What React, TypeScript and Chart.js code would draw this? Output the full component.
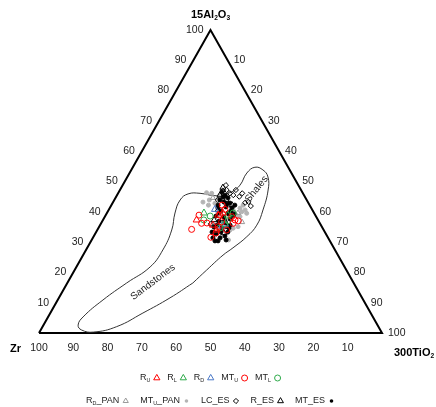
import React, { useEffect, useRef } from 'react';
import { Chart, registerables } from 'chart.js';

Chart.register(...registerables);

const FONT = "'Liberation Sans', Arial, Helvetica, sans-serif";

// ---- tick labels (percent along each edge) ----
const leftTicks = [10, 20, 30, 40, 50, 60, 70, 80, 90, 100]; // 15Al2O3 (left edge)
const rightTicks = [10, 20, 30, 40, 50, 60, 70, 80, 90, 100]; // 300TiO2 (right edge)
const bottomTicks = [100, 90, 80, 70, 60, 50, 40, 30, 20, 10]; // Zr (bottom edge)

const titleTop = '15Al{2}O{3}';
const titleLeft = 'Zr';
const titleRight = '300TiO{2}';

// ---- field outline (Sandstones + Shales), as [Al, Ti] in %, Zr = 100 - Al - Ti ----
const fieldAl = [16.5, 11.6, 6.6, 2.1, 0.3, 1.0, 2.6, 5.3, 10.9, 16.5, 21.8, 27.4, 34.0, 39.6, 43.9, 45.9, 46.1, 45.3, 46.6, 48.8, 52.8, 54.7, 53.8, 51.5, 47.2, 40.6, 35.6, 31.8, 28.1, 25.7, 20.8, 16.5];
const fieldTi = [36.6, 32.4, 27.0, 21.6, 15.7, 11.9, 10.1, 10.2, 13.2, 17.3, 21.5, 22.4, 21.7, 19.85, 19.2, 20.5, 23.9, 29.2, 32.9, 34.2, 34.2, 35.6, 38.4, 41.0, 43.2, 45.0, 45.7, 44.7, 42.5, 40.8, 38.5, 36.6];

const fieldNames = ['Sandstones', 'Shales'];
const fieldNameAl = [16.8, 47.5];
const fieldNameTi = [24.8, 39.7];

// ---- samples, [Al, Ti] in % ----
const rU = [[37.3, 27.3], [38.9, 32.8], [34.0, 34.8], [39.6, 33.8], [35.6, 32.9]];
const rL = [[39.6, 28.3], [38.9, 35.6]];
const rD = [[40.8, 30.9], [35.9, 36.3], [35.3, 35.7]];
const mtU = [[34.2, 27.4], [31.6, 34.3], [38.9, 27.2], [36.2, 29.3], [36.3, 30.8], [40.8, 33.8], [38.9, 33.3], [36.7, 34.9], [38.4, 37.0], [37.3, 38.5], [37.0, 39.6], [36.2, 38.5], [35.1, 34.7], [34.0, 37.7], [33.0, 35.1], [42.2, 32.3]];
const mtL = [[37.3, 29.4], [39.6, 36.8], [35.9, 36.2], [38.6, 30.6], [37.0, 36.6], [34.7, 35.4]];
const rDPan = [[44.6, 28.4], [39.6, 38.2], [36.6, 40.9], [43.9, 32.0]];
const mtUPan = [[46.3, 25.7], [46.1, 27.3], [45.5, 30.0], [43.9, 27.7], [42.8, 29.9], [41.2, 38.0], [40.0, 39.1], [40.6, 39.8], [39.5, 40.8], [38.9, 38.1], [38.4, 39.4], [34.6, 39.3], [35.1, 40.5], [34.0, 38.7], [42.2, 28.3], [40.6, 36.3], [44.5, 30.1], [42.2, 38.4], [42.2, 34.0], [43.2, 26.2], [30.7, 39.9]];
const lcEs = [[43.0, 38.6], [43.3, 39.4], [41.9, 40.8], [46.1, 36.2], [45.0, 35.9], [47.0, 30.1], [47.2, 31.1], [46.1, 32.6], [45.5, 33.9], [36.0, 32.1], [48.8, 30.1], [47.2, 33.8], [43.9, 30.2]];
const rEs = [[45.5, 30.0], [43.9, 32.6], [40.6, 31.9], [42.2, 35.2], [37.6, 34.6], [35.0, 37.6], [34.0, 34.6], [33.0, 37.4], [37.3, 32.4], [39.3, 36.0], [48.0, 29.6]];
const mtEs = [[46.5, 30.1], [45.5, 31.5], [44.6, 32.8], [43.9, 30.8], [43.2, 32.3], [42.9, 34.2], [42.2, 31.1], [41.6, 33.7], [41.3, 35.6], [40.3, 32.9], [39.6, 35.3], [39.3, 37.2], [38.6, 32.3], [38.3, 34.7], [37.6, 36.9], [36.9, 34.0], [36.3, 36.3], [35.0, 33.5], [34.7, 36.0], [33.3, 38.4], [32.7, 35.3], [31.4, 37.1], [32.0, 38.2], [31.4, 35.0], [30.4, 37.0], [35.6, 37.9], [42.2, 36.0], [33.3, 33.8], [44.9, 31.2], [42.6, 33.5], [39.6, 32.7], [40.3, 35.8], [37.0, 35.7], [35.6, 34.1], [34.7, 38.0], [33.3, 36.4], [30.7, 39.2], [30.4, 36.1], [38.6, 37.3], [41.3, 31.5]];

const legendLabels = ['R{U}', 'R{L}', 'R{D}', 'MT{U}', 'MT{L}', 'R{D}_PAN', 'MT{U}_PAN', 'LC_ES', 'R_ES', 'MT_ES'];

const RED = '#ff0000';
const GREEN = '#2eaa4a';
const BLUE = '#4a78c8';
const GREY = '#b4b4b4';
const GREY_T = '#9a9a9a';

type Seg = { t: string; sub: boolean };
function parseSegs(label: string): Seg[] {
  const segs: Seg[] = [];
  const re = /\{([^}]*)\}|[^{]+/g;
  let m: RegExpExecArray | null;
  while ((m = re.exec(label))) {
    if (m[1] !== undefined) segs.push({ t: m[1], sub: true });
    else segs.push({ t: m[0], sub: false });
  }
  return segs;
}
function fontStr(size: number, bold: boolean) {
  return `${bold ? 'bold ' : ''}${size}px ${FONT}`;
}
function richWidth(ctx: CanvasRenderingContext2D, segs: Seg[], size: number, bold: boolean) {
  let w = 0;
  for (const s of segs) {
    ctx.font = fontStr(s.sub ? size * 0.6 : size, bold);
    w += ctx.measureText(s.t).width;
  }
  return w;
}
function drawRich(ctx: CanvasRenderingContext2D, label: string, x: number, y: number, size: number, bold: boolean, align: 'left' | 'center' | 'right', color = '#000') {
  const segs = parseSegs(label);
  const w = richWidth(ctx, segs, size, bold);
  let cx = align === 'left' ? x : align === 'center' ? x - w / 2 : x - w;
  ctx.save();
  ctx.fillStyle = color;
  ctx.textAlign = 'left';
  ctx.textBaseline = 'middle';
  for (const s of segs) {
    const sz = s.sub ? size * 0.6 : size;
    ctx.font = fontStr(sz, bold);
    ctx.fillText(s.t, cx, s.sub ? y + size * 0.32 : y);
    cx += ctx.measureText(s.t).width;
  }
  ctx.restore();
  return w;
}

type Marker = { kind: 'tri' | 'circ' | 'dot' | 'dia'; color: string; size: number };
function drawMarker(ctx: CanvasRenderingContext2D, mk: Marker, x: number, y: number) {
  ctx.save();
  ctx.lineWidth = 1;
  ctx.strokeStyle = mk.color;
  ctx.fillStyle = mk.color;
  ctx.beginPath();
  const r = mk.size;
  if (mk.kind === 'tri') {
    ctx.moveTo(x, y - r);
    ctx.lineTo(x + r * 0.866, y + r / 2);
    ctx.lineTo(x - r * 0.866, y + r / 2);
    ctx.closePath();
    ctx.stroke();
  } else if (mk.kind === 'circ') {
    ctx.arc(x, y, r, 0, Math.PI * 2);
    ctx.stroke();
  } else if (mk.kind === 'dot') {
    ctx.arc(x, y, r, 0, Math.PI * 2);
    ctx.fill();
  } else {
    ctx.moveTo(x - r, y);
    ctx.lineTo(x, y - r);
    ctx.lineTo(x + r, y);
    ctx.lineTo(x, y + r);
    ctx.closePath();
    ctx.stroke();
  }
  ctx.restore();
}

export default function App() {
  const ref = useRef<HTMLCanvasElement>(null);

  useEffect(() => {
    document.body.style.margin = '0';
    const toXY = (p: number[]) => ({ x: p[1] + p[0] / 2, y: p[0] });

    const series = [
      { data: rU, style: 'triangle', r: 4, color: RED, fill: false, order: 1, mk: { kind: 'tri', color: RED, size: 3.6 } },
      { data: rL, style: 'triangle', r: 4, color: GREEN, fill: false, order: 2, mk: { kind: 'tri', color: GREEN, size: 3.6 } },
      { data: rD, style: 'triangle', r: 4, color: BLUE, fill: false, order: 3, mk: { kind: 'tri', color: BLUE, size: 3.6 } },
      { data: mtU, style: 'circle', r: 3, color: RED, fill: false, order: 0, mk: { kind: 'circ', color: RED, size: 3 } },
      { data: mtL, style: 'circle', r: 3, color: GREEN, fill: false, order: 1, mk: { kind: 'circ', color: GREEN, size: 3 } },
      { data: rDPan, style: 'triangle', r: 3, color: GREY_T, fill: false, order: 8, mk: { kind: 'tri', color: GREY_T, size: 3 } },
      { data: mtUPan, style: 'circle', r: 2, color: GREY, fill: true, order: 9, mk: { kind: 'dot', color: GREY, size: 1.8 } },
      { data: lcEs, style: 'rectRot', r: 2.6, color: '#000', fill: false, order: 7, mk: { kind: 'dia', color: '#000', size: 2.6 } },
      { data: rEs, style: 'triangle', r: 3.4, color: '#000', fill: false, order: 6, mk: { kind: 'tri', color: '#000', size: 3.4 } },
      { data: mtEs, style: 'circle', r: 2, color: '#000', fill: true, order: 5, mk: { kind: 'dot', color: '#000', size: 1.8 } },
    ];

    const datasets: any[] = [
      {
        label: 'frame',
        data: [toXY([0, 0]), toXY([0, 100]), toXY([100, 0]), toXY([0, 0])],
        showLine: true,
        borderColor: '#000',
        borderWidth: 2,
        borderJoinStyle: 'miter',
        pointRadius: 0,
        fill: false,
        clip: false,
        order: 20,
      },
      {
        label: 'field',
        data: fieldAl.map((a, i) => toXY([a, fieldTi[i]])),
        showLine: true,
        borderColor: '#333',
        borderWidth: 1,
        tension: 0.45,
        pointRadius: 0,
        fill: false,
        clip: false,
        order: 19,
      },
      ...series.map((s, i) => ({
        label: legendLabels[i],
        data: s.data.map(toXY),
        showLine: false,
        pointStyle: s.style,
        pointRadius: s.r,
        pointBorderWidth: 1,
        pointBorderColor: s.color,
        pointBackgroundColor: s.fill ? s.color : 'rgba(0,0,0,0)',
        clip: false,
        order: s.order,
      })),
    ];

    const textPlugin = {
      id: 'ternaryText',
      afterDatasetsDraw(chart: any) {
        const ctx: CanvasRenderingContext2D = chart.ctx;
        const xs = chart.scales.x;
        const ys = chart.scales.y;
        const px = (al: number, ti: number) => xs.getPixelForValue(ti + al / 2);
        const py = (al: number) => ys.getPixelForValue(al);
        const tickSize = 10.5;

        // left edge ticks (Al)
        leftTicks.forEach((v) => drawRich(ctx, String(v), px(v, 0) - 7, py(v), tickSize, false, 'right', '#222'));
        // right edge ticks (Ti)
        rightTicks.forEach((t) => drawRich(ctx, String(t), px(100 - t, t) + 6, py(100 - t), tickSize, false, 'left', '#222'));
        // bottom ticks (Zr)
        bottomTicks.forEach((z) => drawRich(ctx, String(z), px(0, 100 - z), py(0) + 15, tickSize, false, 'center', '#222'));

        // corner titles
        drawRich(ctx, titleTop, px(100, 0), py(100) - 15, 11, true, 'center');
        drawRich(ctx, titleLeft, px(0, 0) - 18, py(0) + 16, 11, true, 'right');
        drawRich(ctx, titleRight, px(0, 100) + 12, py(0) + 20, 11, true, 'left');

        // field names
        const angles = [-37, -51];
        fieldNames.forEach((name, i) => {
          ctx.save();
          ctx.translate(px(fieldNameAl[i], fieldNameTi[i]), py(fieldNameAl[i]));
          ctx.rotate((angles[i] * Math.PI) / 180);
          ctx.font = fontStr(10, false);
          ctx.fillStyle = '#222';
          ctx.textAlign = 'center';
          ctx.textBaseline = 'middle';
          ctx.fillText(name, 0, 0);
          ctx.restore();
        });

        // legend (two rows, marker after text)
        const cx = (chart.chartArea.left + chart.chartArea.right) / 2;
        const rows = [
          { idx: [0, 1, 2, 3, 4], y: chart.chartArea.bottom + 45, gap: 7 },
          { idx: [5, 6, 7, 8, 9], y: chart.chartArea.bottom + 68, gap: 11 },
        ];
        const lsize = 9;
        rows.forEach((row) => {
          const widths = row.idx.map((i) => richWidth(ctx, parseSegs(legendLabels[i]), lsize, false) + 3 + 7);
          const total = widths.reduce((a, b) => a + b, 0) + row.gap * (row.idx.length - 1);
          let x = cx - total / 2;
          row.idx.forEach((i, k) => {
            const tw = drawRich(ctx, legendLabels[i], x, row.y, lsize, false, 'left', '#222');
            drawMarker(ctx, series[i].mk as Marker, x + tw + 3 + 3.5, row.y);
            x += widths[k] + row.gap;
          });
        });
      },
    };

    const chart = new Chart(ref.current as HTMLCanvasElement, {
      type: 'scatter',
      data: { datasets },
      options: {
        animation: false,
        responsive: false,
        devicePixelRatio: 1,
        layout: { padding: { left: 39, right: 54, top: 30, bottom: 74 } },
        scales: {
          x: { type: 'linear', min: 0, max: 100, display: false },
          y: { type: 'linear', min: 0, max: 100, display: false },
        },
        plugins: { legend: { display: false }, tooltip: { enabled: false } },
      },
      plugins: [textPlugin],
    } as any);

    return () => chart.destroy();
  }, []);

  return <canvas ref={ref} width={436} height={407} style={{ display: 'block' }} />;
}
